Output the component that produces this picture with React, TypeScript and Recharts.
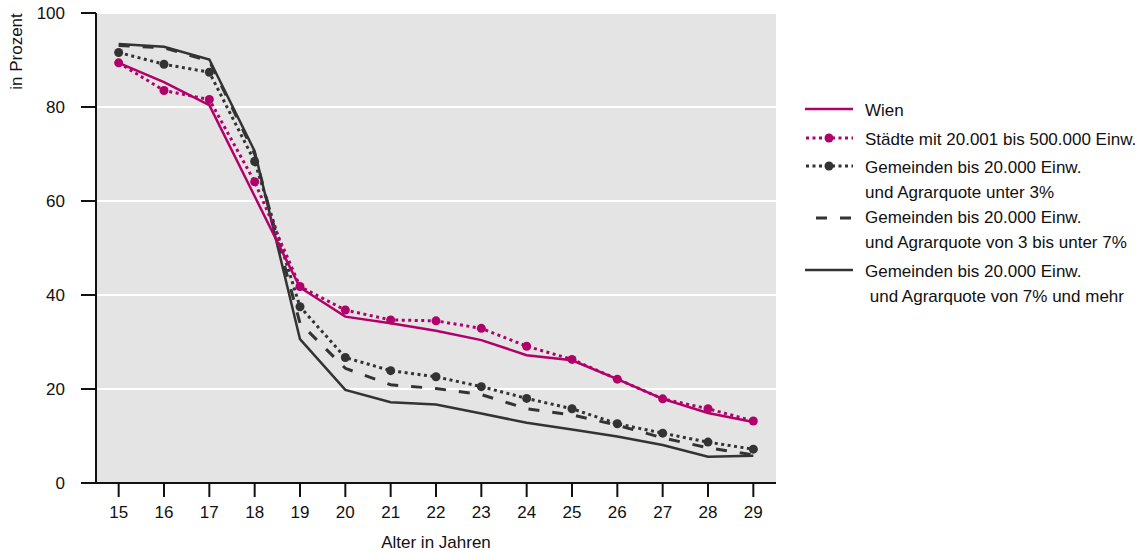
import React from 'react';
import { LineChart, Line, XAxis, YAxis, CartesianGrid } from 'recharts';

const ages = ['15', '16', '17', '18', '19', '20', '21', '22', '23', '24', '25', '26', '27', '28', '29'];
const wien = [89.4, 85.3, 80.4, 61.0, 41.6, 35.4, 34.0, 32.4, 30.4, 27.2, 26.1, 22.1, 17.9, 14.9, 13.0];
const staedte = [89.4, 83.5, 81.6, 64.1, 41.8, 36.8, 34.7, 34.5, 32.9, 29.1, 26.3, 22.1, 17.9, 15.8, 13.2];
const gemUnter3 = [91.6, 89.1, 87.4, 68.4, 37.5, 26.7, 23.9, 22.6, 20.5, 18.0, 15.8, 12.6, 10.6, 8.7, 7.2];
const gem3bis7 = [93.1, 92.6, 89.8, 70.0, 34.0, 24.4, 20.9, 20.1, 18.8, 15.8, 14.5, 12.3, 9.6, 7.5, 6.0];
const gem7mehr = [93.4, 92.8, 90.1, 70.6, 30.6, 19.8, 17.2, 16.7, 14.8, 12.8, 11.4, 9.9, 8.1, 5.6, 5.8];
const yTicks = [0, 20, 40, 60, 80, 100];

const legendWien = 'Wien';
const legendStaedte = 'Städte mit 20.001 bis 500.000 Einw.';
const legendUnter3 = ['Gemeinden bis 20.000 Einw.', 'und Agrarquote unter 3%'];
const legend3bis7 = ['Gemeinden bis 20.000 Einw.', 'und Agrarquote von 3 bis unter 7%'];
const legend7mehr = ['Gemeinden bis 20.000 Einw.', '\u00a0und Agrarquote von 7% und mehr'];

const data = ages.map((a, i) => ({
  age: a,
  wien: wien[i],
  staedte: staedte[i],
  gemUnter3: gemUnter3[i],
  gem3bis7: gem3bis7[i],
  gem7mehr: gem7mehr[i],
}));

const MAGENTA = '#b2006b';
const DARK = '#333333';
const FONT = '"Liberation Sans", Arial, Helvetica, sans-serif';
const PAD = 680 / 15 / 2;

const YTitle = () => (
  <text
    x={22}
    y={51.5}
    transform="rotate(-90, 22, 51.5)"
    textAnchor="middle"
    fontSize={17}
    fontFamily={FONT}
    fill="#111"
  >
    in Prozent
  </text>
);

const XTitle = () => (
  <text x={436} y={548} textAnchor="middle" fontSize={17} fontFamily={FONT} fill="#111">
    Alter in Jahren
  </text>
);

type IconKind = 'solidM' | 'dotM' | 'dotD' | 'dash' | 'solidD';

const Icon = ({ kind }: { kind: IconKind }) => {
  const w = 48;
  const h = 12;
  const y = 6;
  let line: React.ReactNode = null;
  if (kind === 'solidM') line = <line x1={0} x2={w} y1={y} y2={y} stroke={MAGENTA} strokeWidth={2.5} />;
  if (kind === 'solidD') line = <line x1={0} x2={w} y1={y} y2={y} stroke={DARK} strokeWidth={2.5} />;
  if (kind === 'dash')
    line = <line x1={11} x2={w} y1={y} y2={y} stroke={DARK} strokeWidth={3} strokeDasharray="11 13" />;
  if (kind === 'dotM' || kind === 'dotD') {
    const c = kind === 'dotM' ? MAGENTA : DARK;
    line = (
      <g>
        <line x1={1} x2={w} y1={y} y2={y} stroke={c} strokeWidth={3} strokeDasharray="3 3.5" />
        <circle cx={24} cy={y} r={4.5} fill={c} />
      </g>
    );
  }
  return (
    <svg width={w} height={h} style={{ position: 'absolute', left: 0, top: 0, overflow: 'visible' }}>
      {line}
    </svg>
  );
};

const LegendItem = ({ top, iconTop, kind, lines }: { top: number; iconTop: number; kind: IconKind; lines: string[] }) => (
  <div style={{ position: 'absolute', left: 805, top: 0 }}>
    <div style={{ position: 'absolute', left: 0, top: iconTop - 6, width: 48, height: 12 }}>
      <Icon kind={kind} />
    </div>
    <div
      style={{
        position: 'absolute',
        left: 60,
        top: top,
        whiteSpace: 'nowrap',
        fontSize: 17,
        lineHeight: '25px',
        fontFamily: FONT,
        color: '#111',
      }}
    >
      {lines.map((l, i) => (
        <div key={i}>{l}</div>
      ))}
    </div>
  </div>
);

export default function App() {
  return (
    <div style={{ position: 'absolute', left: 0, top: 0, width: 1146, height: 553, background: '#fff' }}>
      <LineChart
        width={1146}
        height={553}
        data={data}
        margin={{ top: 13, right: 370, bottom: 30, left: 36 }}
      >
        <CartesianGrid
          vertical={false}
          stroke="#ffffff"
          strokeWidth={2}
          fill="#e4e4e4"
          fillOpacity={1}
        />
        <XAxis
          dataKey="age"
          interval={0}
          padding={{ left: PAD, right: PAD }}
          height={40}
          tickSize={14}
          tickMargin={9}
          axisLine={{ stroke: '#111', strokeWidth: 2 }}
          tickLine={{ stroke: '#111', strokeWidth: 2 }}
          tick={{ fill: '#111', fontSize: 17, fontFamily: FONT }}
          label={<XTitle />}
        />
        <XAxis
          xAxisId="top"
          dataKey="age"
          orientation="top"
          padding={{ left: PAD, right: PAD }}
          height={0}
          tick={false}
          tickLine={false}
          axisLine={{ stroke: '#111', strokeWidth: 2 }}
        />
        <YAxis
          domain={[0, 100]}
          ticks={yTicks}
          interval={0}
          width={60}
          tickSize={15}
          tickMargin={16}
          axisLine={{ stroke: '#111', strokeWidth: 2 }}
          tickLine={{ stroke: '#111', strokeWidth: 2 }}
          tick={{ fill: '#111', fontSize: 17, fontFamily: FONT }}
          label={<YTitle />}
        />
        <YAxis
          yAxisId="right"
          orientation="right"
          domain={[0, 100]}
          width={0}
          tick={false}
          tickLine={false}
          axisLine={{ stroke: '#111', strokeWidth: 2 }}
        />
        <Line
          type="linear"
          dataKey="gem7mehr"
          stroke={DARK}
          strokeWidth={2.5}
          dot={false}
          activeDot={false}
          isAnimationActive={false}
        />
        <Line
          type="linear"
          dataKey="gem3bis7"
          stroke={DARK}
          strokeWidth={3}
          strokeDasharray="11 13"
          dot={false}
          activeDot={false}
          isAnimationActive={false}
        />
        <Line
          type="linear"
          dataKey="gemUnter3"
          stroke={DARK}
          strokeWidth={3}
          strokeDasharray="3 3.5"
          dot={{ r: 4.5, fill: DARK, stroke: 'none', strokeDasharray: '0' }}
          activeDot={false}
          isAnimationActive={false}
        />
        <Line
          type="linear"
          dataKey="wien"
          stroke={MAGENTA}
          strokeWidth={2.5}
          dot={false}
          activeDot={false}
          isAnimationActive={false}
        />
        <Line
          type="linear"
          dataKey="staedte"
          stroke={MAGENTA}
          strokeWidth={3}
          strokeDasharray="3 3.5"
          dot={{ r: 4.5, fill: MAGENTA, stroke: 'none', strokeDasharray: '0' }}
          activeDot={false}
          isAnimationActive={false}
        />
      </LineChart>
      <LegendItem top={98} iconTop={108.5} kind="solidM" lines={[legendWien]} />
      <LegendItem top={127} iconTop={138} kind="dotM" lines={[legendStaedte]} />
      <LegendItem top={155} iconTop={166} kind="dotD" lines={legendUnter3} />
      <LegendItem top={205} iconTop={217.5} kind="dash" lines={legend3bis7} />
      <LegendItem top={259} iconTop={270} kind="solidD" lines={legend7mehr} />
    </div>
  );
}
